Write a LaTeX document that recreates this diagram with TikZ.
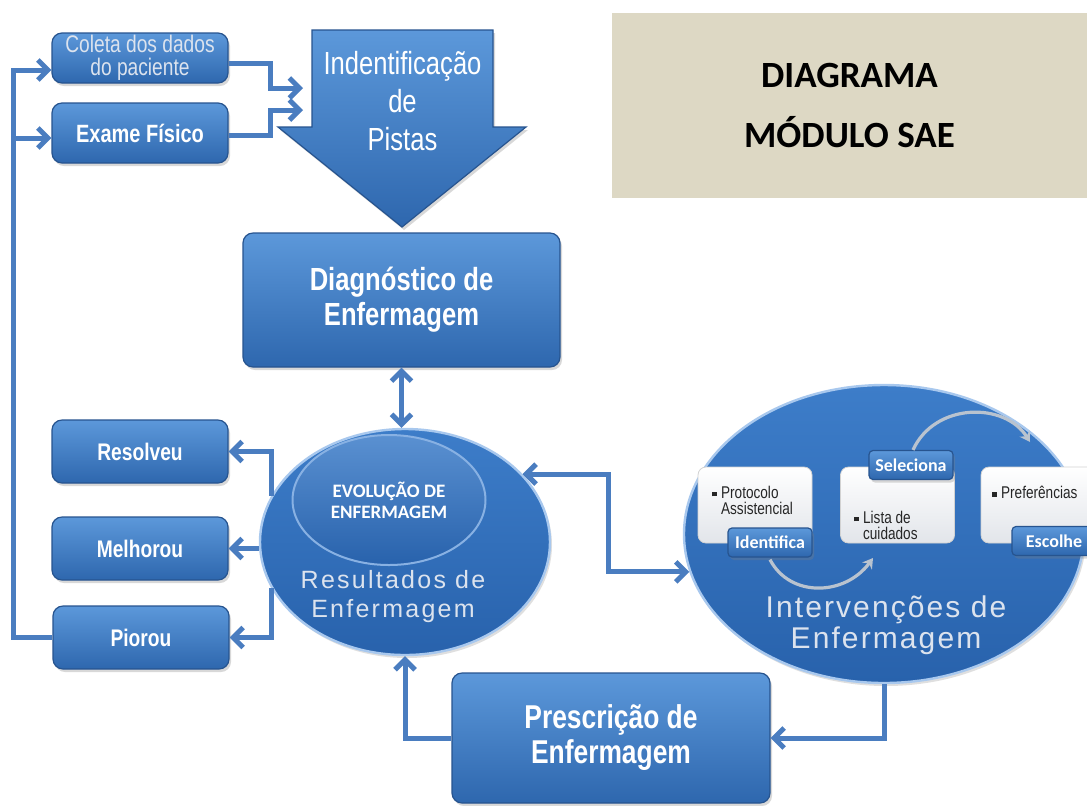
\documentclass[tikz,border=0pt]{standalone}
\usepackage{fontspec}
\setmainfont{Liberation Sans}
\newfontfamily\condsf[FakeStretch=0.8]{Liberation Sans}
\newfontfamily\calib{Carlito}
\usetikzlibrary{arrows.meta,positioning,shapes.geometric,shadows}

\definecolor{boxtop}{HTML}{5C98DA}
\definecolor{boxbot}{HTML}{2E67AE}
\definecolor{boxedge}{HTML}{27548F}
\definecolor{linkblue}{HTML}{4A7DC0}
\definecolor{ovaltop}{HTML}{3D7DC9}
\definecolor{ovalbot}{HTML}{2862AC}
\definecolor{ovalrim}{HTML}{A8C8EE}
\definecolor{paletext}{HTML}{DCE3EE}
\definecolor{titlebg}{HTML}{DDD8C4}
\definecolor{cardbot}{HTML}{E2E5EA}
\definecolor{curvegray}{HTML}{B9C3CF}

\newcommand{\sqbul}{\rule[0.25ex]{0.55ex}{0.55ex}}

\begin{document}
\begin{tikzpicture}[
    x=0.5pt, y=-0.5pt,
    >={Straight Barb[length=5pt,width=10pt]},
    bluebox/.style={draw=boxedge, line width=0.6pt, rounded corners=5pt, top color=boxtop, bottom color=boxbot,
        text=white, align=center, inner sep=0pt, drop shadow={shadow xshift=1pt, shadow yshift=-1.5pt, opacity=0.3}},
    smallbox/.style={bluebox, minimum width=88pt, font=\condsf\bfseries\fontsize{12}{14}\selectfont},
    tag/.style={bluebox, rounded corners=2pt, minimum width=42pt, minimum height=14.5pt, font=\calib\bfseries\fontsize{9}{10}\selectfont},
    card/.style={draw=gray!35, rounded corners=4pt, top color=white, bottom color=cardbot, minimum width=57pt, minimum height=38pt, inner sep=0pt},
    cardtxt/.style={anchor=north west, inner sep=0pt, align=left, text=black!85, font=\condsf\fontsize{8.5}{8}\selectfont},
    oval/.style={ellipse, draw=ovalrim, line width=1.2pt, top color=ovaltop, bottom color=ovalbot, inner sep=0pt,
        drop shadow={shadow xshift=1pt, shadow yshift=-1.5pt, opacity=0.25}},
    innerov/.style={ellipse, draw=ovalrim!70!ovaltop, line width=1pt, top color=ovaltop!85!white, bottom color=ovalbot,
        inner sep=0pt, align=center, text=white, font=\calib\bfseries\fontsize{9.5}{10.5}\selectfont},
    bigarrow/.style={draw=boxedge, line width=0.6pt, top color=boxtop, bottom color=boxbot,
        drop shadow={shadow xshift=1pt, shadow yshift=-1.5pt, opacity=0.3}},
    link/.style={draw=linkblue, line width=2.5pt},
    curve/.style={draw=curvegray, line width=1.6pt, -{Stealth[length=5pt,width=6pt]}}
]
\fill[white] (0,0) rectangle (1087,805);
\useasboundingbox (0,0) rectangle (1087,805);

% title
\node[fill=titlebg, minimum width=237.5pt, minimum height=92.5pt, inner sep=0pt, align=center,
      font=\calib\bfseries\fontsize{18.5}{30}\selectfont] (title) at (849.5,105.5) {DIAGRAMA\\MÓDULO SAE};

% data collection
\node[smallbox, minimum height=25pt, text=paletext, font=\condsf\fontsize{12}{11.5}\selectfont] (coleta) at (140,58) {Coleta dos dados\\do paciente};
\node[smallbox, minimum height=30pt, font=\condsf\bfseries\fontsize{12.5}{14}\selectfont] (exame) at (140,133) {Exame Físico};

% big arrow
\path[bigarrow] (312,30) -- (493,30) -- (493,127) -- (526,127) -- (402,227) -- (278,127) -- (312,127) -- cycle;
\node[text=white, align=center, font=\condsf\fontsize{16}{19}\selectfont] (pistas) at (402.5,101) {Indentificação\\de\\Pistas};
\coordinate (pin1) at (303,88);
\coordinate (pin2) at (303,110);

\node[bluebox, minimum width=158.5pt, minimum height=67pt, font=\condsf\bfseries\fontsize{16}{17.5}\selectfont] (diag) at (401.5,300) {Diagnóstico de\\Enfermagem};

% results
\node[smallbox, minimum height=31.5pt] (resolveu) at (140,451.5) {Resolveu};
\node[smallbox, minimum height=31.5pt] (melhorou) at (140,548.5) {Melhorou};
\node[smallbox, minimum height=31.5pt] (piorou) at (141,637.5) {Piorou};

\node[oval, minimum width=145pt, minimum height=113pt] (res) at (405,542) {};
\node[innerov, minimum width=96.5pt, minimum height=65pt] (evol) at (389,500) {EVOLUÇÃO DE\\ENFERMAGEM};
\node[text=paletext, align=center, font=\fontsize{12.5}{14.5}\selectfont\addfontfeature{LetterSpace=9}] (restxt) at (393,597) {Resultados de\\Enfermagem};

% interventions
\node[oval, minimum width=200pt, minimum height=149pt] (interv) at (884,534) {};
\node[card] (prot) at (755,505) {};
\node[card] (lista) at (897.5,505) {};
\node[card] (pref) at (1038,505) {};
\node[cardtxt] (prottxt) at (712,486) {\sqbul\ Protocolo\\\hphantom{\sqbul\ }Assistencial};
\node[cardtxt] (listatxt) at (854,511) {\sqbul\ Lista de\\\hphantom{\sqbul\ }cuidados};
\node[cardtxt] (preftxt) at (992,486) {\sqbul\ Preferências};
\node[tag] (ident) at (770,542.5) {Identifica};
\node[tag] (selec) at (911,465) {Seleciona};
\node[tag] (escol) at (1054,541) {Escolhe};
\coordinate (c1end) at (873,558);
\coordinate (c2end) at (1030,442);
\draw[curve] ([yshift=-1pt]ident.south) .. controls (790,598) and (845,596) .. (c1end);
\draw[curve] ([xshift=1pt]selec.north) .. controls (935,402) and (1005,402) .. (c2end);
\node[text=paletext, align=center, font=\fontsize{15}{15.5}\selectfont\addfontfeature{LetterSpace=7}] (intxt) at (886,625) {Intervenções de\\Enfermagem};

\node[bluebox, minimum width=159pt, minimum height=65pt, font=\condsf\bfseries\fontsize{16.5}{17.5}\selectfont] (presc) at (611,738) {Prescrição de\\Enfermagem};

% connectors
\coordinate (loopx) at (13,0);
\coordinate (cin) at ([yshift=-6pt]coleta.west);
\coordinate (ein) at ([yshift=-2.5pt]exame.west);
\draw[link, ->] ([yshift=-2.5pt]coleta.east) -- ++(21pt,0) |- (pin1);
\draw[link, ->] ([yshift=-1pt]exame.east) -- ++(21pt,0) |- (pin2);
\draw[link, <->] (diag.south) -- (diag.south |- res.north);
\draw[link, ->] (res.161) |- (resolveu.east);
\draw[link, ->] (res.west |- melhorou.east) -- (melhorou.east);
\draw[link, ->] (res.199) |- (piorou.east);
\draw[link, ->] (piorou.west) -| (loopx |- cin) -- (cin);
\draw[link, ->] (loopx |- ein) -- (ein);
\draw[link, <->] (res.30) -- ++(43pt,0) |- (interv.191);
\draw[link, ->] (interv.south) |- (presc.east);
\draw[link, ->] (presc.west) -| (res.south);
\end{tikzpicture}
\end{document}
